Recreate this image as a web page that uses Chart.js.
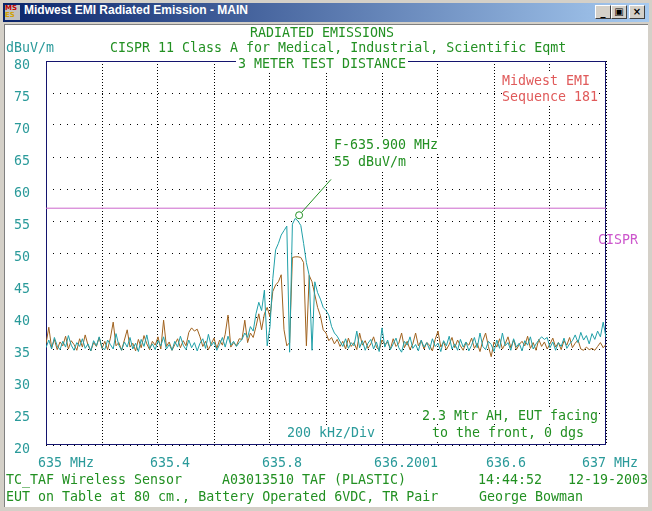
<!DOCTYPE html>
<html>
<head>
<meta charset="utf-8">
<script src="https://cdn.jsdelivr.net/npm/chart.js@4.4.1/dist/chart.umd.min.js"></script>
<style>
html, body { margin: 0; padding: 0; background: #d4d0c8; }
#win { position: relative; width: 652px; height: 511px; overflow: hidden; background: #d4d0c8;
       font-family: "DejaVu Sans Mono", monospace; font-size: 13.3px; }
#titlebar { position: absolute; left: 3px; top: 3px; width: 646px; height: 19px;
            background: linear-gradient(to right, #0a246a, #a6caf0); }
#titlebar .txt { position: absolute; left: 21px; top: 0; line-height: 19px; color: #fff;
                 font: bold 12px "Liberation Sans", sans-serif; }
#icon { position: absolute; left: 2px; top: 2px; width: 15px; height: 15px; background: #c0c0c0;
        font: bold 7px "DejaVu Sans", sans-serif; line-height: 7px; color: #c00000; }
.btn { position: absolute; top: 2px; width: 16px; height: 14px; background: #d4d0c8; box-sizing: border-box;
       border: 1px solid; border-color: #fff #404040 #404040 #fff;
       font: bold 10px "DejaVu Sans", sans-serif; text-align: center; line-height: 12px; color: #000; }
#client { position: absolute; left: 4px; top: 24px; width: 644px; height: 483px; background: #fff;
          border-top: 1px solid #808080; border-left: 1px solid #808080; box-sizing: border-box; }
canvas { position: absolute; left: 0; top: 0; }
.t { position: absolute; white-space: pre; line-height: 16px; height: 16px; }
.w { background: #fff; }
.g { color: #229022; }
.c { color: #2a9a9a; }
.r { color: #e05a5a; }
.m { color: #cc55cc; }
</style>
</head>
<body>
<div id="win">
  <div id="titlebar">
    <div id="icon">MS<br><span style="color:#d0a000">ES</span></div>
    <div class="txt">Midwest EMI Radiated Emission - MAIN</div>
    <div class="btn" style="left:592px">_</div>
    <div class="btn" style="left:608px">&#9635;</div>
    <div class="btn" style="left:626px">&#215;</div>
  </div>
  <div id="client"></div>
  <canvas id="emiChart" width="652" height="511"></canvas>

  <div class="t g" style="left:250px;top:25px">RADIATED EMISSIONS</div>
  <div class="t c" style="left:6px;top:40px">dBuV/m</div>
  <div class="t g" style="left:110px;top:40px">CISPR 11 Class A for Medical, Industrial, Scientific Eqmt</div>
  <div class="t g w" style="left:236px;top:56px;padding:0 2px">3 METER TEST DISTANCE</div>
  <div class="t r w" style="left:502px;top:73px">Midwest EMI</div>
  <div class="t r w" style="left:502px;top:89px">Sequence 181</div>
  <div class="t g w" style="left:334px;top:137px">F-635.900 MHz</div>
  <div class="t g w" style="left:334px;top:154px">55 dBuV/m</div>
  <div class="t m" style="left:598px;top:232px">CISPR</div>
  <div class="t g w" style="left:422px;top:408px">2.3 Mtr AH, EUT facing</div>
  <div class="t g w" style="left:432px;top:425px">to the front, 0 dgs</div>
  <div class="t c w" style="left:287px;top:425px">200 kHz/Div</div>
  <div class="t g" style="left:6px;top:472px">TC_TAF Wireless Sensor</div>
  <div class="t g" style="left:222px;top:472px">A03013510 TAF (PLASTIC)</div>
  <div class="t g" style="left:478px;top:472px">14:44:52</div>
  <div class="t g" style="left:568px;top:472px">12-19-2003</div>
  <div class="t g" style="left:6px;top:489px">EUT on Table at 80 cm., Battery Operated 6VDC, TR Pair</div>
  <div class="t g" style="left:479px;top:489px">George Bowman</div>
</div>

<script>
// sweep 635 - 637 MHz, 201 points
const startMHz = 635;
const stopMHz = 637;

// peak trace (teal)
const tealTrace = [
  35.2, 36.4, 35.0, 36.8, 35.5, 34.9, 36.2, 35.3, 37.1, 35.6,
  34.8, 36.0, 35.4, 36.6, 35.1, 35.8, 34.7, 36.3, 35.5, 36.9,
  35.2, 34.9, 36.4, 35.7, 35.0, 37.4, 35.6, 34.8, 36.1, 35.3,
  36.8, 35.0, 35.9, 34.6, 36.5, 35.4, 37.2, 35.1, 35.8, 34.9,
  36.3, 35.5, 36.9, 35.0, 35.7, 34.8, 36.2, 35.3, 37.0, 35.6,
  34.9, 36.4, 35.2, 36.0, 34.7, 35.9, 36.6, 35.1, 37.3, 35.5,
  36.1, 34.8, 35.7, 36.8, 35.3, 37.0, 35.6, 36.2, 35.4, 36.0,
  36.5, 37.5, 36.8, 38.5, 37.8, 40.5, 42.3, 41.0, 44.2, 35.5,
  38.5, 46.0, 50.5, 51.5, 52.8, 53.5, 54.2, 34.5, 54.5, 55.4,
  55.0, 54.3, 51.5, 48.5, 46.5, 34.8, 45.5, 43.8, 42.8, 41.5,
  41.0, 40.3, 38.5, 37.5, 37.0, 36.2,
  35.4, 36.6, 35.1, 36.0, 35.5, 37.8, 35.2, 36.3, 34.8, 35.9,
  36.5, 35.0, 36.1, 34.6, 38.3, 35.3, 36.4, 34.9, 35.8, 36.7,
  35.2, 34.5, 36.2, 35.6, 36.9, 35.1, 35.7, 34.7, 36.4, 35.3,
  36.0, 34.9, 36.6, 35.4, 35.9, 34.6, 36.3, 35.5, 37.0, 35.0,
  35.8, 34.8, 36.5, 35.3, 36.1, 34.7, 35.6, 36.8, 35.2, 37.5,
  35.4, 34.9, 36.2, 35.7, 34.6, 36.4, 35.1, 37.5, 35.5, 36.0,
  34.8, 36.6, 35.3, 35.9, 34.7, 36.3, 35.6, 36.9, 35.0, 35.8,
  36.4, 36.9, 36.5, 36.8, 35.2, 36.1, 34.8, 36.0, 35.4, 36.7,
  35.1, 35.8, 36.3, 37.2, 36.0, 37.6, 36.4, 37.1, 35.8, 37.4,
  36.5, 37.8, 36.9, 39.2, 36.8
];

// second trace (brown)
const brownTrace = [
  35.8, 38.4, 35.2, 36.5, 34.9, 36.1, 35.5, 37.0, 35.0, 36.3,
  35.7, 34.8, 36.6, 35.3, 37.2, 35.6, 34.7, 36.0, 35.4, 36.8,
  35.1, 36.2, 34.9, 36.7, 39.2, 35.5, 36.0, 34.8, 36.4, 38.0,
  35.3, 35.9, 34.7, 36.5, 35.2, 37.1, 35.8, 34.9, 36.2, 35.6,
  36.9, 35.0, 39.5, 35.4, 36.1, 34.8, 35.7, 36.6, 35.2, 36.3,
  35.5, 37.6, 38.3, 37.8, 38.1, 36.9, 35.4, 36.2, 34.9, 35.8,
  36.7, 35.1, 36.4, 35.6, 37.3, 40.3, 35.3, 36.0, 35.5, 36.6,
  36.5, 39.5, 36.0, 37.5, 36.8, 38.5, 40.5, 38.0, 40.5, 41.5,
  40.0, 44.0, 45.0, 45.5, 46.6, 38.0, 35.5, 36.0, 49.3, 49.4,
  49.4, 49.3, 48.5, 35.5, 46.5, 45.5, 43.5, 41.5, 40.2, 38.0,
  37.5, 36.3, 36.8, 35.8, 36.5, 35.4,
  36.2, 35.0, 36.7, 35.4, 36.0, 34.9, 37.5, 35.6, 36.3, 35.1,
  35.8, 36.9, 35.3, 34.8, 36.4, 35.7, 36.1, 35.0, 36.6, 35.4,
  35.9, 37.5, 35.2, 36.2, 34.9, 35.8, 37.5, 35.5, 36.3, 35.0,
  36.0, 35.6, 34.7, 36.5, 37.8, 35.3, 36.1, 34.9, 35.7, 36.8,
  35.2, 36.4, 35.5, 34.8, 36.0, 35.6, 36.7, 35.1, 35.9, 34.6,
  36.3, 37.5, 35.4, 33.8, 36.1, 35.3, 36.6, 35.0, 35.8, 36.9,
  35.2, 36.4, 34.9, 35.7, 36.2, 35.5, 37.0, 35.1, 36.0, 34.8,
  36.5, 35.4, 36.1, 35.0, 35.8, 36.7, 35.3, 36.0, 34.9, 36.3,
  35.6, 36.8, 35.2, 35.9, 36.4, 35.0, 34.8, 35.3, 34.9, 35.1,
  34.8, 35.4, 36.0, 35.2, 35.7
];

// CISPR limit (dBuV/m)
const limitLevel = 57;

// marker and its leader line
const markerFreq = [635.904];
const markerLevel = [55.9];
const leaderFreq = [635.914, 636.018];
const leaderLevel = [56.4, 61.5];

// axis ticks
const yMin = 20, yMax = 80, yStep = 5;
const xTickValues = [635, 635.4, 635.8, 636.2, 636.6, 637];
const xTickLabels = ['635 MHz', '635.4', '635.8', '636.2001', '636.6', '637 MHz'];

const tealColor = '#20a0a8';
const brownColor = '#a0621e';
const limitColor = '#cc66cc';
const markColor = '#229022';
const labelTeal = '#2a9a9a';

function toPoints(vals) {
  const step = (stopMHz - startMHz) / (vals.length - 1);
  return vals.map((v, i) => ({ x: startMHz + i * step, y: v }));
}

const framePlugin = {
  id: 'frame',
  beforeDatasetsDraw(chart) {
    const { ctx, chartArea: a } = chart;
    ctx.save();
    ctx.strokeStyle = '#14146e';
    ctx.lineWidth = 1;
    ctx.strokeRect(Math.round(a.left) + 0.5, Math.round(a.top) + 0.5,
                   Math.round(a.right - a.left) - 1, Math.round(a.bottom - a.top) - 1);
    ctx.restore();
  }
};

const xLabelPlugin = {
  id: 'xLabels',
  afterDraw(chart) {
    const ctx = chart.ctx;
    const xs = chart.scales.x;
    const y = chart.chartArea.bottom + 19;
    ctx.save();
    ctx.font = '13.3px "DejaVu Sans Mono"';
    ctx.fillStyle = labelTeal;
    ctx.textBaseline = 'middle';
    xTickValues.forEach((v, i) => {
      const px = xs.getPixelForValue(v);
      const last = i === xTickValues.length - 1;
      ctx.textAlign = last ? 'right' : 'left';
      ctx.fillText(xTickLabels[i], last ? px + 32 : px - 8, y);
    });
    ctx.restore();
  }
};

new Chart(document.getElementById('emiChart').getContext('2d'), {
  type: 'line',
  data: {
    datasets: [
      {
        data: markerFreq.map((f, i) => ({ x: f, y: markerLevel[i] })),
        showLine: false,
        pointStyle: 'circle',
        pointRadius: 3.5,
        pointBorderColor: markColor,
        pointBackgroundColor: 'rgba(255,255,255,0)',
        pointBorderWidth: 1
      },
      {
        data: leaderFreq.map((f, i) => ({ x: f, y: leaderLevel[i] })),
        borderColor: markColor,
        borderWidth: 1,
        pointRadius: 0
      },
      {
        data: toPoints(tealTrace),
        borderColor: tealColor,
        borderWidth: 1,
        pointRadius: 0,
        tension: 0
      },
      {
        data: toPoints(brownTrace),
        borderColor: brownColor,
        borderWidth: 1,
        pointRadius: 0,
        tension: 0
      },
      {
        data: [{ x: startMHz, y: limitLevel }, { x: stopMHz, y: limitLevel }],
        borderColor: limitColor,
        borderWidth: 1,
        pointRadius: 0
      }
    ]
  },
  options: {
    responsive: false,
    animation: false,
    layout: { padding: { top: 61, right: 46, left: 0, bottom: 0 } },
    plugins: {
      legend: { display: false },
      tooltip: { enabled: false }
    },
    scales: {
      x: {
        type: 'linear',
        min: startMHz,
        max: stopMHz,
        ticks: { display: false, stepSize: 0.2 },
        grid: { color: '#000', lineWidth: 1, drawTicks: false },
        border: { display: false, dash: [1, 2] },
        afterFit: function(scale) { scale.height = 66; }
      },
      y: {
        min: yMin,
        max: yMax,
        ticks: {
          stepSize: yStep,
          color: labelTeal,
          font: { family: 'DejaVu Sans Mono', size: 13.3 },
          padding: 16,
          labelOffset: 5,
          autoSkip: false
        },
        grid: { color: '#000', lineWidth: 1, drawTicks: false },
        border: { display: false, dash: [1, 6] },
        afterFit: function(scale) { scale.width = 46; }
      }
    }
  },
  plugins: [framePlugin, xLabelPlugin]
});
</script>
</body>
</html>
